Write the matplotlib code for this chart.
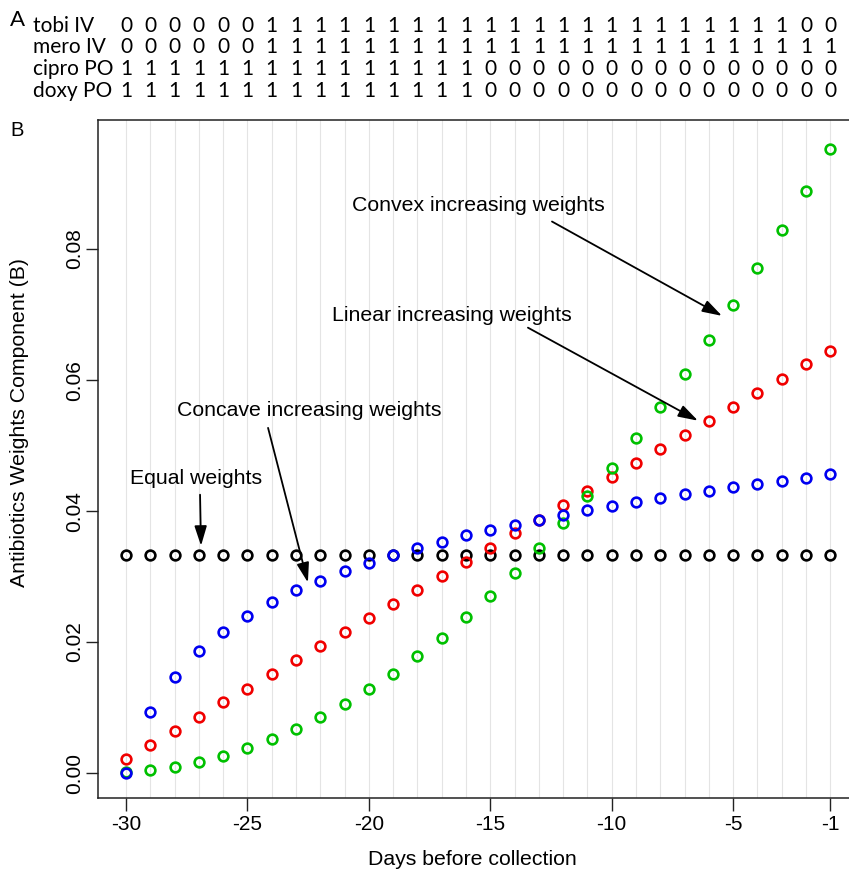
import matplotlib.pyplot as plt

plt.rcParams['font.family'] = ['Liberation Sans', 'DejaVu Sans']

# days before sample collection
days = [-30, -29, -28, -27, -26, -25, -24, -23, -22, -21,
        -20, -19, -18, -17, -16, -15, -14, -13, -12, -11,
        -10, -9, -8, -7, -6, -5, -4, -3, -2, -1]

# weights
equal_w = [0.0333] * 30
linear_w = [0.0022, 0.0043, 0.0065, 0.0086, 0.0108, 0.0129, 0.0151, 0.0172, 0.0194, 0.0215,
            0.0237, 0.0258, 0.0280, 0.0301, 0.0323, 0.0344, 0.0366, 0.0387, 0.0409, 0.0430,
            0.0452, 0.0473, 0.0495, 0.0516, 0.0538, 0.0559, 0.0581, 0.0602, 0.0624, 0.0645]
convex_w = [0.0001, 0.0004, 0.0010, 0.0017, 0.0026, 0.0038, 0.0052, 0.0068, 0.0086, 0.0106,
            0.0128, 0.0152, 0.0179, 0.0207, 0.0238, 0.0271, 0.0306, 0.0343, 0.0382, 0.0423,
            0.0466, 0.0512, 0.0559, 0.0609, 0.0661, 0.0715, 0.0771, 0.0829, 0.0889, 0.0952]
concave_w = [0.0000, 0.0093, 0.0147, 0.0186, 0.0216, 0.0240, 0.0261, 0.0279, 0.0294, 0.0308,
             0.0321, 0.0333, 0.0344, 0.0353, 0.0363, 0.0371, 0.0379, 0.0387, 0.0394, 0.0401,
             0.0408, 0.0414, 0.0420, 0.0426, 0.0431, 0.0436, 0.0441, 0.0446, 0.0451, 0.0456]

# antibiotic exposure table (panel A)
drug_names = ['tobi IV', 'mero IV', 'cipro PO', 'doxy PO']
tobi_iv = [0, 0, 0, 0, 0, 0, 1, 1, 1, 1, 1, 1, 1, 1, 1, 1, 1, 1, 1, 1, 1, 1, 1, 1, 1, 1, 1, 1, 0, 0]
mero_iv = [0, 0, 0, 0, 0, 0, 1, 1, 1, 1, 1, 1, 1, 1, 1, 1, 1, 1, 1, 1, 1, 1, 1, 1, 1, 1, 1, 1, 1, 1]
cipro_po = [1, 1, 1, 1, 1, 1, 1, 1, 1, 1, 1, 1, 1, 1, 1, 0, 0, 0, 0, 0, 0, 0, 0, 0, 0, 0, 0, 0, 0, 0]
doxy_po = [1, 1, 1, 1, 1, 1, 1, 1, 1, 1, 1, 1, 1, 1, 1, 0, 0, 0, 0, 0, 0, 0, 0, 0, 0, 0, 0, 0, 0, 0]
drug_rows = [tobi_iv, mero_iv, cipro_po, doxy_po]

xticks = [-30, -25, -20, -15, -10, -5, -1]
yticks = [0.00, 0.02, 0.04, 0.06, 0.08]

# annotation text (x, y) and arrow (start -> tip), in data units
notes = ['Equal weights', 'Concave increasing weights',
         'Linear increasing weights', 'Convex increasing weights']
note_xy = [(-27.12, 0.0449), (-22.47, 0.0553), (-16.58, 0.0698), (-15.51, 0.0866)]
arrow_from = [(-26.95, 0.0425), (-24.15, 0.0527), (-13.45, 0.0680), (-12.46, 0.0842)]
arrow_to = [(-26.91, 0.0347), (-22.51, 0.0291), (-6.45, 0.0538), (-5.46, 0.0698)]

W, H = 849, 869
fig = plt.figure(figsize=(W / 100, H / 100), dpi=100)
ax = fig.add_axes([97.8 / W, 71 / H, 760.7 / W, 678 / H])

for d in days:
    ax.axvline(d, color='#e4e4e4', lw=0.8, zorder=0)

mk = dict(ls='none', marker='o', mfc='none', ms=7.0, mew=1.9, zorder=3)
ax.plot(days, equal_w, mec='black', **mk)
ax.plot(days, linear_w, mec='#f00000', **mk)
ax.plot(days, convex_w, mec='#00c000', **mk)
ax.plot(days, concave_w, mec='#0000f0', **mk)

ax.set_xlim(-31.16, 0.16)
ax.set_ylim(-0.0038, 0.0997)
ax.set_xticks(xticks)
ax.set_xticklabels([str(t) for t in xticks])
ax.set_yticks(yticks)
ax.set_yticklabels(['%.2f' % t for t in yticks], rotation=90, va='center')
ax.tick_params(axis='both', labelsize=15, length=9, width=1.0, color='#222222')
ax.tick_params(axis='x', pad=3)
ax.tick_params(axis='y', pad=1)
for s in ax.spines.values():
    s.set_linewidth(1.1)
    s.set_color('#222222')

for txt, xy, a, b in zip(notes, note_xy, arrow_from, arrow_to):
    ax.text(xy[0], xy[1], txt, fontsize=15.3, ha='center', va='center', zorder=5)
    ax.annotate('', xy=b, xytext=a,
                arrowprops=dict(arrowstyle='-|>,head_length=0.8,head_width=0.25',
                                color='black', lw=1.3, shrinkA=0, shrinkB=0,
                                mutation_scale=15), zorder=5)

fig.text(20 / W, 1 - 422.5 / H, 'Antibiotics Weights Component (B)', fontsize=15.3,
         rotation=90, ha='center', va='center')
fig.text(472 / W, 1 - 865 / H, 'Days before collection', fontsize=15.3,
         ha='center', va='baseline')

# panel A table, columns lined up with the day axis
row_base = [31.7, 52.7, 75, 96.7]
for name, vals, yb in zip(drug_names, drug_rows, row_base):
    fig.text(33 / W, 1 - yb / H, name, fontsize=15, family=['Lato', 'DejaVu Sans'],
             ha='left', va='baseline')
    for d, v in zip(days, vals):
        ax.annotate(str(v), xy=(d, H - yb), xycoords=('data', 'figure pixels'),
                    fontsize=15, family=['Lato', 'DejaVu Sans'], ha='center',
                    va='baseline', annotation_clip=False)

fig.text(10 / W, 1 - 26 / H, 'A', fontsize=16, family=['Lato', 'DejaVu Sans'],
         ha='left', va='baseline')
fig.text(10 / W, 1 - 136 / H, 'B', fontsize=14.5, ha='left', va='baseline')

fig.savefig('out.png', dpi=100)
